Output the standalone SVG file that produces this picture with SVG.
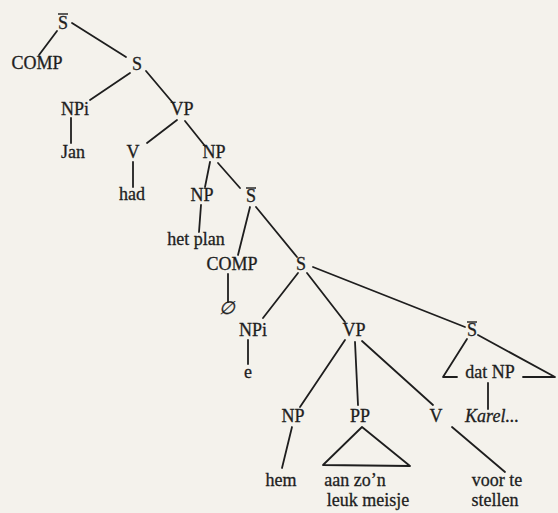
<svg xmlns="http://www.w3.org/2000/svg" width="558" height="513" viewBox="0 0 558 513">
  <style>
    .lbl { font-family: "Liberation Serif", "Times New Roman", serif; font-size: 18px; fill: #1e1e1e; stroke: #1e1e1e; stroke-width: 0.3; text-anchor: middle; }
    .it { font-style: italic; }
    .edge { stroke: #1e1e1e; stroke-width: 1.8; fill: none; stroke-linecap: round; stroke-linejoin: round; }
    .bar { stroke: #1e1e1e; stroke-width: 1.4; }
  </style>
  <rect width="558" height="513" fill="#f4f2ec"/>

  <!-- tree branches -->
  <g id="connectors" class="edge">
    <line x1="57" y1="31" x2="39" y2="55"/>
    <line x1="72" y1="23" x2="126" y2="57"/>
    <line x1="130" y1="73" x2="90" y2="100"/>
    <line x1="146" y1="71" x2="173" y2="103"/>
    <line x1="71" y1="118" x2="71" y2="143"/>
    <line x1="177" y1="120" x2="147" y2="143"/>
    <line x1="185" y1="121" x2="205" y2="146"/>
    <line x1="133" y1="162" x2="133" y2="187"/>
    <line x1="210" y1="162" x2="205" y2="187"/>
    <line x1="218" y1="163" x2="240" y2="188"/>
    <line x1="201" y1="205" x2="199" y2="232"/>
    <line x1="250" y1="207" x2="238" y2="255"/>
    <line x1="256" y1="207" x2="297" y2="257"/>
    <line x1="228" y1="274" x2="228" y2="302"/>
    <line x1="298" y1="273" x2="263" y2="318"/>
    <line x1="307" y1="273" x2="345" y2="322"/>
    <line x1="313" y1="267" x2="465" y2="327"/>
    <line x1="248" y1="340" x2="248" y2="364"/>
    <line x1="345" y1="340" x2="300" y2="407"/>
    <line x1="355" y1="342" x2="358" y2="405"/>
    <line x1="362" y1="341" x2="433" y2="405"/>
    <polyline points="467,339 443,377 457,377"/>
    <polyline points="478,335 555,377 523,377"/>
    <line x1="488" y1="383" x2="488" y2="409"/>
    <line x1="292" y1="427" x2="282" y2="468"/>
    <polygon points="362,427 323,465 410,466"/>
    <line x1="452" y1="427" x2="505" y2="472"/>
  </g>

  <g id="sbar-top">
    <text class="lbl" x="63" y="29">S</text>
    <line class="bar" x1="58" y1="14" x2="68" y2="14"/>
  </g>
  <g id="comp-top"><text class="lbl" x="37" y="69">COMP</text></g>
  <g id="s-top"><text class="lbl" x="137" y="70">S</text></g>
  <g id="npi-top"><text class="lbl" x="75" y="115">NPi</text></g>
  <g id="vp-top"><text class="lbl" x="182" y="115">VP</text></g>
  <g id="jan"><text class="lbl" x="73" y="158">Jan</text></g>
  <g id="v-top"><text class="lbl" x="133" y="158">V</text></g>
  <g id="np-obj"><text class="lbl" x="214" y="158">NP</text></g>
  <g id="had"><text class="lbl" x="132" y="200">had</text></g>
  <g id="np-head"><text class="lbl" x="202" y="201">NP</text></g>
  <g id="sbar-mid">
    <text class="lbl" x="251" y="202">S</text>
    <line class="bar" x1="246" y1="188" x2="256" y2="188"/>
  </g>
  <g id="het-plan"><text class="lbl" x="196" y="245">het plan</text></g>
  <g id="comp-mid"><text class="lbl" x="232" y="270">COMP</text></g>
  <g id="s-mid"><text class="lbl" x="301" y="270">S</text></g>
  <g id="empty-comp"><text class="lbl it" x="227" y="314">∅</text></g>
  <g id="npi-mid"><text class="lbl" x="253" y="336">NPi</text></g>
  <g id="vp-mid"><text class="lbl" x="354" y="336">VP</text></g>
  <g id="sbar-low">
    <text class="lbl" x="472" y="336">S</text>
    <line class="bar" x1="467" y1="322" x2="477" y2="322"/>
  </g>
  <g id="dat-np"><text class="lbl" x="490" y="378">dat NP</text></g>
  <g id="trace-e"><text class="lbl" x="248" y="378">e</text></g>
  <g id="np-hem"><text class="lbl" x="293" y="422">NP</text></g>
  <g id="pp"><text class="lbl" x="360" y="422">PP</text></g>
  <g id="v-low"><text class="lbl" x="436" y="422">V</text></g>
  <g id="karel"><text class="lbl it" x="492" y="422">Karel...</text></g>
  <g id="hem"><text class="lbl" x="281" y="486">hem</text></g>
  <g id="pp-words">
    <text class="lbl" x="355" y="486">aan zo’n</text>
    <text class="lbl" x="368" y="506">leuk meisje</text>
  </g>
  <g id="voor-te-stellen">
    <text class="lbl" x="497" y="486">voor te</text>
    <text class="lbl" x="495" y="506">stellen</text>
  </g>
</svg>
